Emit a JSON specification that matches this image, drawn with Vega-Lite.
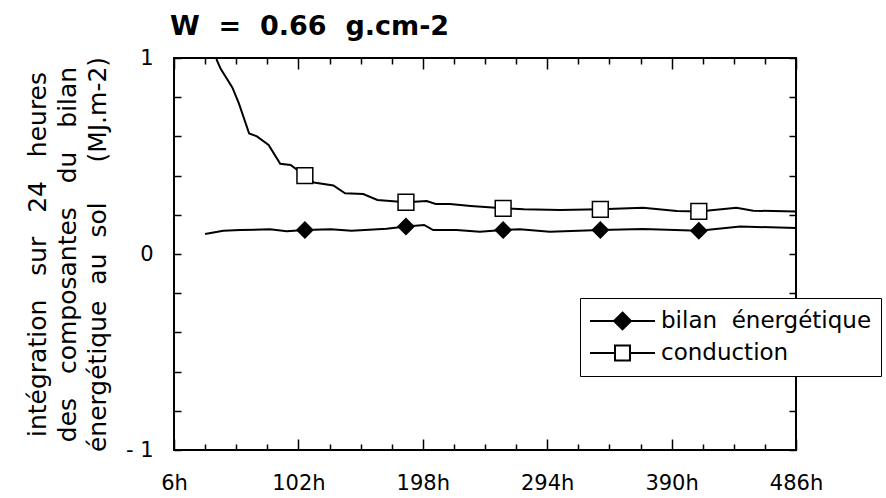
{
  "$schema": "https://vega.github.io/schema/vega-lite/v6.json",
  "width": 622,
  "height": 392,
  "autosize": {"type": "none"},
  "padding": {"left": 174, "top": 58, "right": 90, "bottom": 48},
  "background": "white",
  "config": {
    "view": {"stroke": "black", "strokeWidth": 2},
    "font": "DejaVu Sans",
    "axis": {"labelFont": "DejaVu Sans", "titleFont": "DejaVu Sans", "labelColor": "black", "titleColor": "black", "tickColor": "black", "grid": false, "domain": false}
  },
  "title": {
    "text": "W\u00a0\u00a0=\u00a0\u00a00.66\u00a0\u00a0g.cm-2",
    "anchor": "start",
    "frame": "group",
    "font": "DejaVu Sans",
    "fontSize": 27,
    "fontWeight": "bold",
    "color": "black",
    "baseline": "alphabetic",
    "offset": -15,
    "dx": -4
  },
  "datasets": {
    "curves": [
      {"series": "conduction", "hour": 30, "value": 1.5},
      {"series": "conduction", "hour": 39, "value": 0.99},
      {"series": "conduction", "hour": 42, "value": 0.945},
      {"series": "conduction", "hour": 51, "value": 0.85},
      {"series": "conduction", "hour": 56, "value": 0.77},
      {"series": "conduction", "hour": 64, "value": 0.615},
      {"series": "conduction", "hour": 70, "value": 0.6},
      {"series": "conduction", "hour": 79, "value": 0.556},
      {"series": "conduction", "hour": 88, "value": 0.46},
      {"series": "conduction", "hour": 96, "value": 0.454},
      {"series": "conduction", "hour": 107, "value": 0.4},
      {"series": "conduction", "hour": 114, "value": 0.365},
      {"series": "conduction", "hour": 129, "value": 0.35},
      {"series": "conduction", "hour": 138, "value": 0.31},
      {"series": "conduction", "hour": 152, "value": 0.306},
      {"series": "conduction", "hour": 163, "value": 0.276},
      {"series": "conduction", "hour": 185, "value": 0.264},
      {"series": "conduction", "hour": 201, "value": 0.27},
      {"series": "conduction", "hour": 208, "value": 0.255},
      {"series": "conduction", "hour": 219, "value": 0.255},
      {"series": "conduction", "hour": 235, "value": 0.245},
      {"series": "conduction", "hour": 260, "value": 0.233},
      {"series": "conduction", "hour": 276, "value": 0.228},
      {"series": "conduction", "hour": 304, "value": 0.224},
      {"series": "conduction", "hour": 335, "value": 0.228},
      {"series": "conduction", "hour": 368, "value": 0.236},
      {"series": "conduction", "hour": 394, "value": 0.219},
      {"series": "conduction", "hour": 411, "value": 0.217},
      {"series": "conduction", "hour": 440, "value": 0.236},
      {"series": "conduction", "hour": 453, "value": 0.221},
      {"series": "conduction", "hour": 486, "value": 0.217},
      {"series": "bilan énergétique", "hour": 30, "value": 0.102},
      {"series": "bilan énergétique", "hour": 44, "value": 0.119},
      {"series": "bilan énergétique", "hour": 57, "value": 0.122},
      {"series": "bilan énergétique", "hour": 80, "value": 0.126},
      {"series": "bilan énergétique", "hour": 93, "value": 0.116},
      {"series": "bilan énergétique", "hour": 107, "value": 0.122},
      {"series": "bilan énergétique", "hour": 127, "value": 0.126},
      {"series": "bilan énergétique", "hour": 143, "value": 0.119},
      {"series": "bilan énergétique", "hour": 170, "value": 0.129},
      {"series": "bilan énergétique", "hour": 185, "value": 0.14},
      {"series": "bilan énergétique", "hour": 199, "value": 0.148},
      {"series": "bilan énergétique", "hour": 206, "value": 0.122},
      {"series": "bilan énergétique", "hour": 224, "value": 0.122},
      {"series": "bilan énergétique", "hour": 242, "value": 0.114},
      {"series": "bilan énergétique", "hour": 260, "value": 0.122},
      {"series": "bilan énergétique", "hour": 273, "value": 0.126},
      {"series": "bilan énergétique", "hour": 296, "value": 0.114},
      {"series": "bilan énergétique", "hour": 335, "value": 0.122},
      {"series": "bilan énergétique", "hour": 368, "value": 0.128},
      {"series": "bilan énergétique", "hour": 411, "value": 0.119},
      {"series": "bilan énergétique", "hour": 443, "value": 0.14},
      {"series": "bilan énergétique", "hour": 486, "value": 0.133}
    ],
    "markers": [
      {"series": "bilan énergétique", "hour": 107, "value": 0.122},
      {"series": "bilan énergétique", "hour": 185, "value": 0.14},
      {"series": "bilan énergétique", "hour": 260, "value": 0.122},
      {"series": "bilan énergétique", "hour": 335, "value": 0.122},
      {"series": "bilan énergétique", "hour": 411, "value": 0.119},
      {"series": "conduction", "hour": 107, "value": 0.4},
      {"series": "conduction", "hour": 185, "value": 0.264},
      {"series": "conduction", "hour": 260, "value": 0.233},
      {"series": "conduction", "hour": 335, "value": 0.228},
      {"series": "conduction", "hour": 411, "value": 0.217}
    ]
  },
  "resolve": {"axis": {"x": "independent", "y": "independent"}},
  "layer": [
    {
      "mark": {"type": "rule", "strokeDash": [1, 3], "strokeWidth": 1, "color": "black"},
      "encoding": {
        "y": {"datum": 0, "type": "quantitative", "scale": {"domain": [-1, 1], "nice": false}, "axis": null}
      }
    },
    {
      "data": {"name": "curves"},
      "mark": {"type": "line", "color": "black", "strokeWidth": 2, "clip": true},
      "encoding": {
        "x": {
          "field": "hour", "type": "quantitative",
          "scale": {"domain": [6, 486], "nice": false, "zero": false},
          "axis": {
            "orient": "bottom",
            "values": [6, 30, 54, 78, 102, 126, 150, 174, 198, 222, 246, 270, 294, 318, 342, 366, 390, 414, 438, 462, 486],
            "tickSize": {"condition": {"test": "(datum.value - 6) % 96 === 0", "value": -11}, "value": -6},
            "tickWidth": 1.5,
            "labelExpr": "(datum.value - 6) % 96 === 0 ? datum.value + 'h' : ''",
            "labelFontSize": 21,
            "labelPadding": 33,
            "labelFlush": false,
            "labelOverlap": false,
            "title": null
          }
        },
        "y": {
          "field": "value", "type": "quantitative",
          "scale": {"domain": [-1, 1], "nice": false},
          "axis": {
            "orient": "left",
            "values": [-1, -0.8, -0.6, -0.4, -0.2, 0, 0.2, 0.4, 0.6, 0.8, 1],
            "tickSize": -7,
            "tickWidth": 1.5,
            "labelExpr": "datum.value === 1 ? '1' : datum.value === 0 ? '0' : datum.value === -1 ? '-\u00a01' : ''",
            "labelFontSize": 21,
            "labelPadding": 28,
            "labelFlush": false,
            "labelOverlap": false,
            "title": [
              "intégration\u00a0\u00a0 sur\u00a0\u00a0 24\u00a0\u00a0 heures",
              "des\u00a0\u00a0 composantes\u00a0\u00a0 du\u00a0\u00a0 bilan",
              "énergétique\u00a0 au\u00a0 sol\u00a0\u00a0\u00a0\u00a0 (MJ.m-2)"
            ],
            "titleFontSize": 25,
            "titleFontWeight": "normal",
            "titleLineHeight": 30,
            "titleAngle": -90,
            "titleAlign": "center",
            "titleBaseline": "middle",
            "titleX": -137,
            "titleY": 196
          }
        },
        "detail": {"field": "series"}
      }
    },
    {
      "data": {"name": "markers"},
      "mark": {"type": "point", "filled": true, "strokeWidth": 1.5, "size": 250, "opacity": 1},
      "encoding": {
        "x": {
          "field": "hour", "type": "quantitative",
          "scale": {"domain": [6, 486], "nice": false, "zero": false},
          "axis": {
            "orient": "top",
            "values": [6, 30, 54, 78, 102, 126, 150, 174, 198, 222, 246, 270, 294, 318, 342, 366, 390, 414, 438, 462, 486],
            "tickSize": {"condition": {"test": "(datum.value - 6) % 96 === 0", "value": -11}, "value": -6},
            "tickWidth": 1.5,
            "labels": false,
            "title": null
          }
        },
        "y": {
          "field": "value", "type": "quantitative",
          "scale": {"domain": [-1, 1], "nice": false},
          "axis": {
            "orient": "right",
            "values": [-1, -0.8, -0.6, -0.4, -0.2, 0, 0.2, 0.4, 0.6, 0.8, 1],
            "tickSize": -7,
            "tickWidth": 1.5,
            "labels": false,
            "title": null
          }
        },
        "shape": {
          "field": "series", "type": "nominal",
          "scale": {"range": ["diamond", "square"]},
          "legend": null
        },
        "fill": {
          "field": "series", "type": "nominal",
          "scale": {"range": ["black", "white"]},
          "legend": null
        },
        "stroke": {
          "field": "series", "type": "nominal",
          "scale": {"domain": ["bilan énergétique", "conduction"], "range": ["black", "black"]},
          "legend": {
            "orient": "none",
            "legendX": 406,
            "legendY": 240,
            "title": null,
            "padding": 9,
            "strokeColor": "black",
            "fillColor": "white",
            "cornerRadius": 0,
            "symbolSize": 4225,
            "symbolStrokeWidth": 2,
            "symbolOpacity": 1,
            "symbolType": {"expr": "datum.value === 'conduction' ? 'M-1,0H-0.23M0.23,0H1M-0.23,-0.23H0.23V0.23H-0.23Z' : 'M-1,0H1M0,-0.26L0.26,0L0,0.26L-0.26,0Z'"},
            "symbolFillColor": {"expr": "datum.value === 'conduction' ? 'white' : 'black'"},
            "clipHeight": 28,
            "rowPadding": 4,
            "labelOffset": 5,
            "labelFontSize": 23,
            "labelColor": "black",
            "labelFont": "DejaVu Sans",
            "labelLimit": 400,
            "labelExpr": "datum.label === 'bilan énergétique' ? 'bilan\u00a0\u00a0énergétique' : datum.label"
          }
        }
      }
    }
  ]
}
